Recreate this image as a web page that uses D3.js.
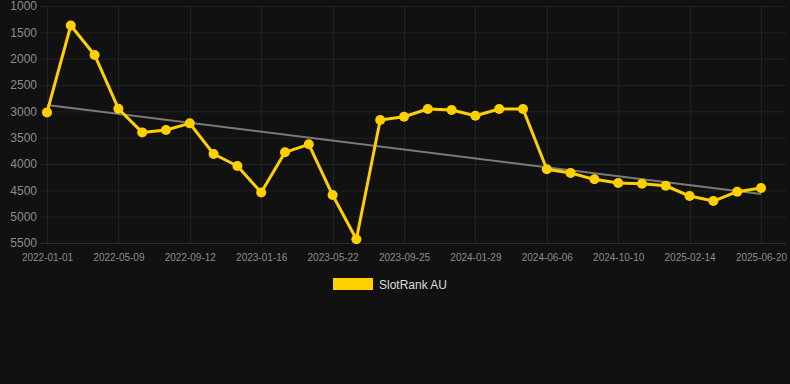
<!DOCTYPE html>
<html>
<head>
<meta charset="utf-8">
<script src="https://cdn.jsdelivr.net/npm/d3@7"></script>
<style>
  html, body { margin: 0; padding: 0; background: #111111; }
  svg { display: block; }
</style>
</head>
<body>
<svg id="chart" width="790" height="384"></svg>
<script>
// ---- data ----
const dates = [
  "2022-01-01","2022-02-12","2022-03-26","2022-05-09","2022-06-20","2022-08-01",
  "2022-09-12","2022-10-24","2022-12-05","2023-01-16","2023-02-27","2023-04-10",
  "2023-05-22","2023-07-03","2023-08-14","2023-09-25","2023-11-06","2023-12-18",
  "2024-01-29","2024-03-11","2024-04-22","2024-06-06","2024-07-18","2024-08-29",
  "2024-10-10","2024-11-21","2025-01-02","2025-02-14","2025-03-28","2025-05-09",
  "2025-06-20"
];
const rankValues = [
  3020, 1370, 1930, 2950, 3400, 3355,
  3228, 3810, 4038, 4540, 3778, 3626,
  4589, 5430, 3165, 3102, 2956, 2975,
  3083, 2956, 2956, 4101, 4171, 4291,
  4361, 4375, 4413, 4608, 4703, 4526,
  4456
];
const tickLabels = [
  "2022-01-01","2022-05-09","2022-09-12","2023-01-16","2023-05-22","2023-09-25",
  "2024-01-29","2024-06-06","2024-10-10","2025-02-14","2025-06-20"
];
const yTicks = [1000, 1500, 2000, 2500, 3000, 3500, 4000, 4500, 5000, 5500];
const trendEnds = [2880, 4570];
const seriesName = "SlotRank AU";

// ---- layout ----
const svg = d3.select("#chart");
const W = 790, H = 384;
const plotLeft = 40, plotRight = 786, plotTop = 6, plotBottom = 243;

const x = d3.scalePoint().domain(dates).range([47, 761]);
const y = d3.scaleLinear().domain([1000, 5500]).range([plotTop, plotBottom]);

svg.append("rect").attr("width", W).attr("height", H).attr("fill", "#111111");

// horizontal grid
svg.append("g").selectAll("line").data(yTicks).join("line")
  .attr("x1", plotLeft).attr("x2", plotRight)
  .attr("y1", d => y(d) + 0.5).attr("y2", d => y(d) + 0.5)
  .attr("stroke", d => d === 5500 ? "#2c2c2c" : "#222222")
  .attr("stroke-width", 1);

// vertical grid
svg.append("g").selectAll("line").data(tickLabels).join("line")
  .attr("x1", d => Math.round(x(d)) + 0.5).attr("x2", d => Math.round(x(d)) + 0.5)
  .attr("y1", plotTop).attr("y2", plotBottom)
  .attr("stroke", "#222222").attr("stroke-width", 1);

// y axis labels
const yAxis = d3.axisLeft(y).tickValues(yTicks).tickSize(0).tickPadding(0).tickFormat(d3.format("d"));
const gy = svg.append("g").attr("transform", `translate(37,0)`).call(yAxis);
gy.select(".domain").remove();
gy.selectAll("text")
  .attr("fill", "#8c8c8c")
  .style("font-family", "'Liberation Sans', Arial, sans-serif")
  .style("font-size", "12px");

// x axis labels
const xAxis = d3.axisBottom(x).tickValues(tickLabels).tickSize(0).tickPadding(0);
const gx = svg.append("g").attr("transform", `translate(0,${plotBottom + 11})`).call(xAxis);
gx.select(".domain").remove();
gx.selectAll("text")
  .attr("fill", "#8c8c8c")
  .style("font-family", "'Liberation Sans', Arial, sans-serif")
  .style("font-size", "10px");

// trend line
svg.append("line")
  .attr("x1", x(dates[0])).attr("y1", y(trendEnds[0]))
  .attr("x2", x(dates[dates.length - 1])).attr("y2", y(trendEnds[1]))
  .attr("stroke", "#7a7a7a").attr("stroke-width", 2);

// series line
const pts = dates.map((d, i) => ({ d, v: rankValues[i] }));
const line = d3.line().x(p => x(p.d)).y(p => y(p.v));
svg.append("path").datum(pts)
  .attr("d", line)
  .attr("fill", "none")
  .attr("stroke", "#ffd000")
  .attr("stroke-width", 3)
  .attr("stroke-linejoin", "round");

svg.append("g").selectAll("circle").data(pts).join("circle")
  .attr("cx", p => x(p.d)).attr("cy", p => y(p.v))
  .attr("r", 5)
  .attr("fill", "#ffd000");

// legend
const lg = svg.append("g");
lg.append("rect").attr("x", 333).attr("y", 278).attr("width", 40).attr("height", 12).attr("fill", "#ffd000");
lg.append("text").attr("x", 379).attr("y", 288.5)
  .text(seriesName)
  .attr("fill", "#dddddd")
  .style("font-family", "'Liberation Sans', Arial, sans-serif")
  .style("font-size", "12px");
</script>
</body>
</html>
